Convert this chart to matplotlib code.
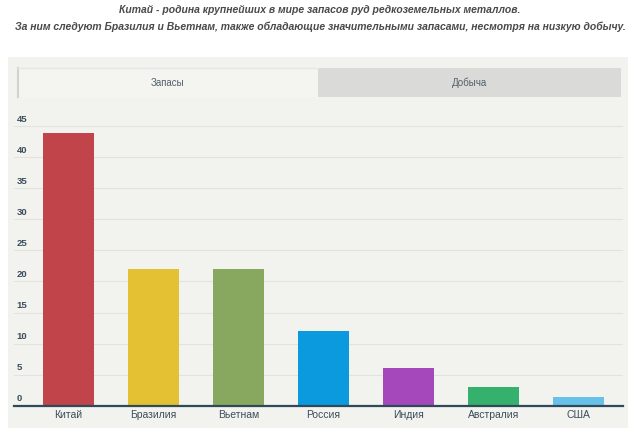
import matplotlib
matplotlib.use("Agg")
import matplotlib.pyplot as plt
from matplotlib.patches import Rectangle
from matplotlib import font_manager

categories = ["Китай", "Бразилия", "Вьетнам", "Россия", "Индия", "Австралия", "США"]
values = [44, 22, 22, 12, 6, 3, 1.4]
colors = ["#c0444a", "#e4c133", "#87a85e", "#0a9add", "#a548bc", "#35b06d", "#68c1e8"]
yticks = [0, 5, 10, 15, 20, 25, 30, 35, 40, 45]
title_lines = ["Китай - родина крупнейших в мире запасов руд редкоземельных металлов.",
               "За ним следуют Бразилия и Вьетнам, также обладающие значительными запасами, несмотря на низкую добычу."]
tabs = ["Запасы", "Добыча"]

names = {f.name for f in font_manager.fontManager.ttflist}
narrow = "Liberation Sans Narrow" if "Liberation Sans Narrow" in names else "Liberation Sans"

W, H = 640, 437
fig = plt.figure(figsize=(W / 100, H / 100), dpi=100)
fig.patch.set_facecolor("white")

def box(x0, y0, x1, y1):
    return (x0 / W, 1 - y1 / H, (x1 - x0) / W, (y1 - y0) / H)

def rect(x0, y0, x1, y1, **kw):
    l, b, w, h = box(x0, y0, x1, y1)
    fig.patches.append(Rectangle((l, b), w, h, transform=fig.transFigure, **kw))

# panel
rect(8, 57, 628, 428, facecolor="#f2f2ee", edgecolor="none", zorder=0)
# tabs
rect(318, 68, 621, 97, facecolor="#dadbd8", edgecolor="none", zorder=1)
rect(18, 68, 318, 97, facecolor="#f4f4f1", edgecolor="none", zorder=1)
fig.add_artist(plt.Line2D([18 / W, 18 / W], [1 - 68 / H, 1 - 97 / H], color="#d2d2d0", lw=1.5, transform=fig.transFigure, zorder=2))
fig.add_artist(plt.Line2D([18 / W, 318 / W], [1 - 68 / H, 1 - 68 / H], color="#e6e6e3", lw=1, transform=fig.transFigure, zorder=2))
fig.text(168 / W, 1 - 82.5 / H, tabs[0], ha="center", va="center", fontsize=7, color="#55606a", family=narrow)
fig.text(470 / W, 1 - 82.5 / H, tabs[1], ha="center", va="center", fontsize=7, color="#55606a", family=narrow)

# title
fig.text(320 / W, 1 - 10 / H, title_lines[0], ha="center", va="center", fontsize=7.5, color="#4a4a4a",
         style="italic", weight="bold", family="Liberation Sans")
fig.text(320 / W, 1 - 27 / H, title_lines[1], ha="center", va="center", fontsize=7.5, color="#4a4a4a",
         style="italic", weight="bold", family="Liberation Sans")

# axes: x pixel 14.1..622.7 ; y 0 at 405.5, 6.2 px per unit
ymax = 47
top_px = 405.5 - ymax * 6.2
ax = fig.add_axes(box(14.1, top_px, 622.7, 405.5))
ax.set_zorder(5)
ax.set_facecolor("none")
x = list(range(len(categories)))
ax.bar(x, values, width=0.6, color=colors, zorder=3)
ax.set_xlim(-0.64, 6.52)
ax.set_ylim(0, ymax)
for s in ["top", "right", "left"]:
    ax.spines[s].set_visible(False)
ax.spines["bottom"].set_color("#2e4a58")
ax.spines["bottom"].set_linewidth(1.6)
ax.spines["bottom"].set_zorder(4)
ax.set_yticks(yticks)
ax.set_yticklabels([])
ax.tick_params(axis="y", length=0)
ax.grid(axis="y", color="#e2e2de", lw=0.8, zorder=1)
ax.set_xticks(x)
ax.set_xticklabels(categories, fontsize=7.5, color="#3b4d5c", family=narrow)
ax.tick_params(axis="x", length=0, pad=3)
for v in yticks:
    ax.text(0.004, v + 1.15, str(v), transform=ax.get_yaxis_transform(), fontsize=6.8,
            color="#3b4d5c", family=narrow, weight="bold", ha="left", va="center")

fig.savefig("out.png", dpi=100)
